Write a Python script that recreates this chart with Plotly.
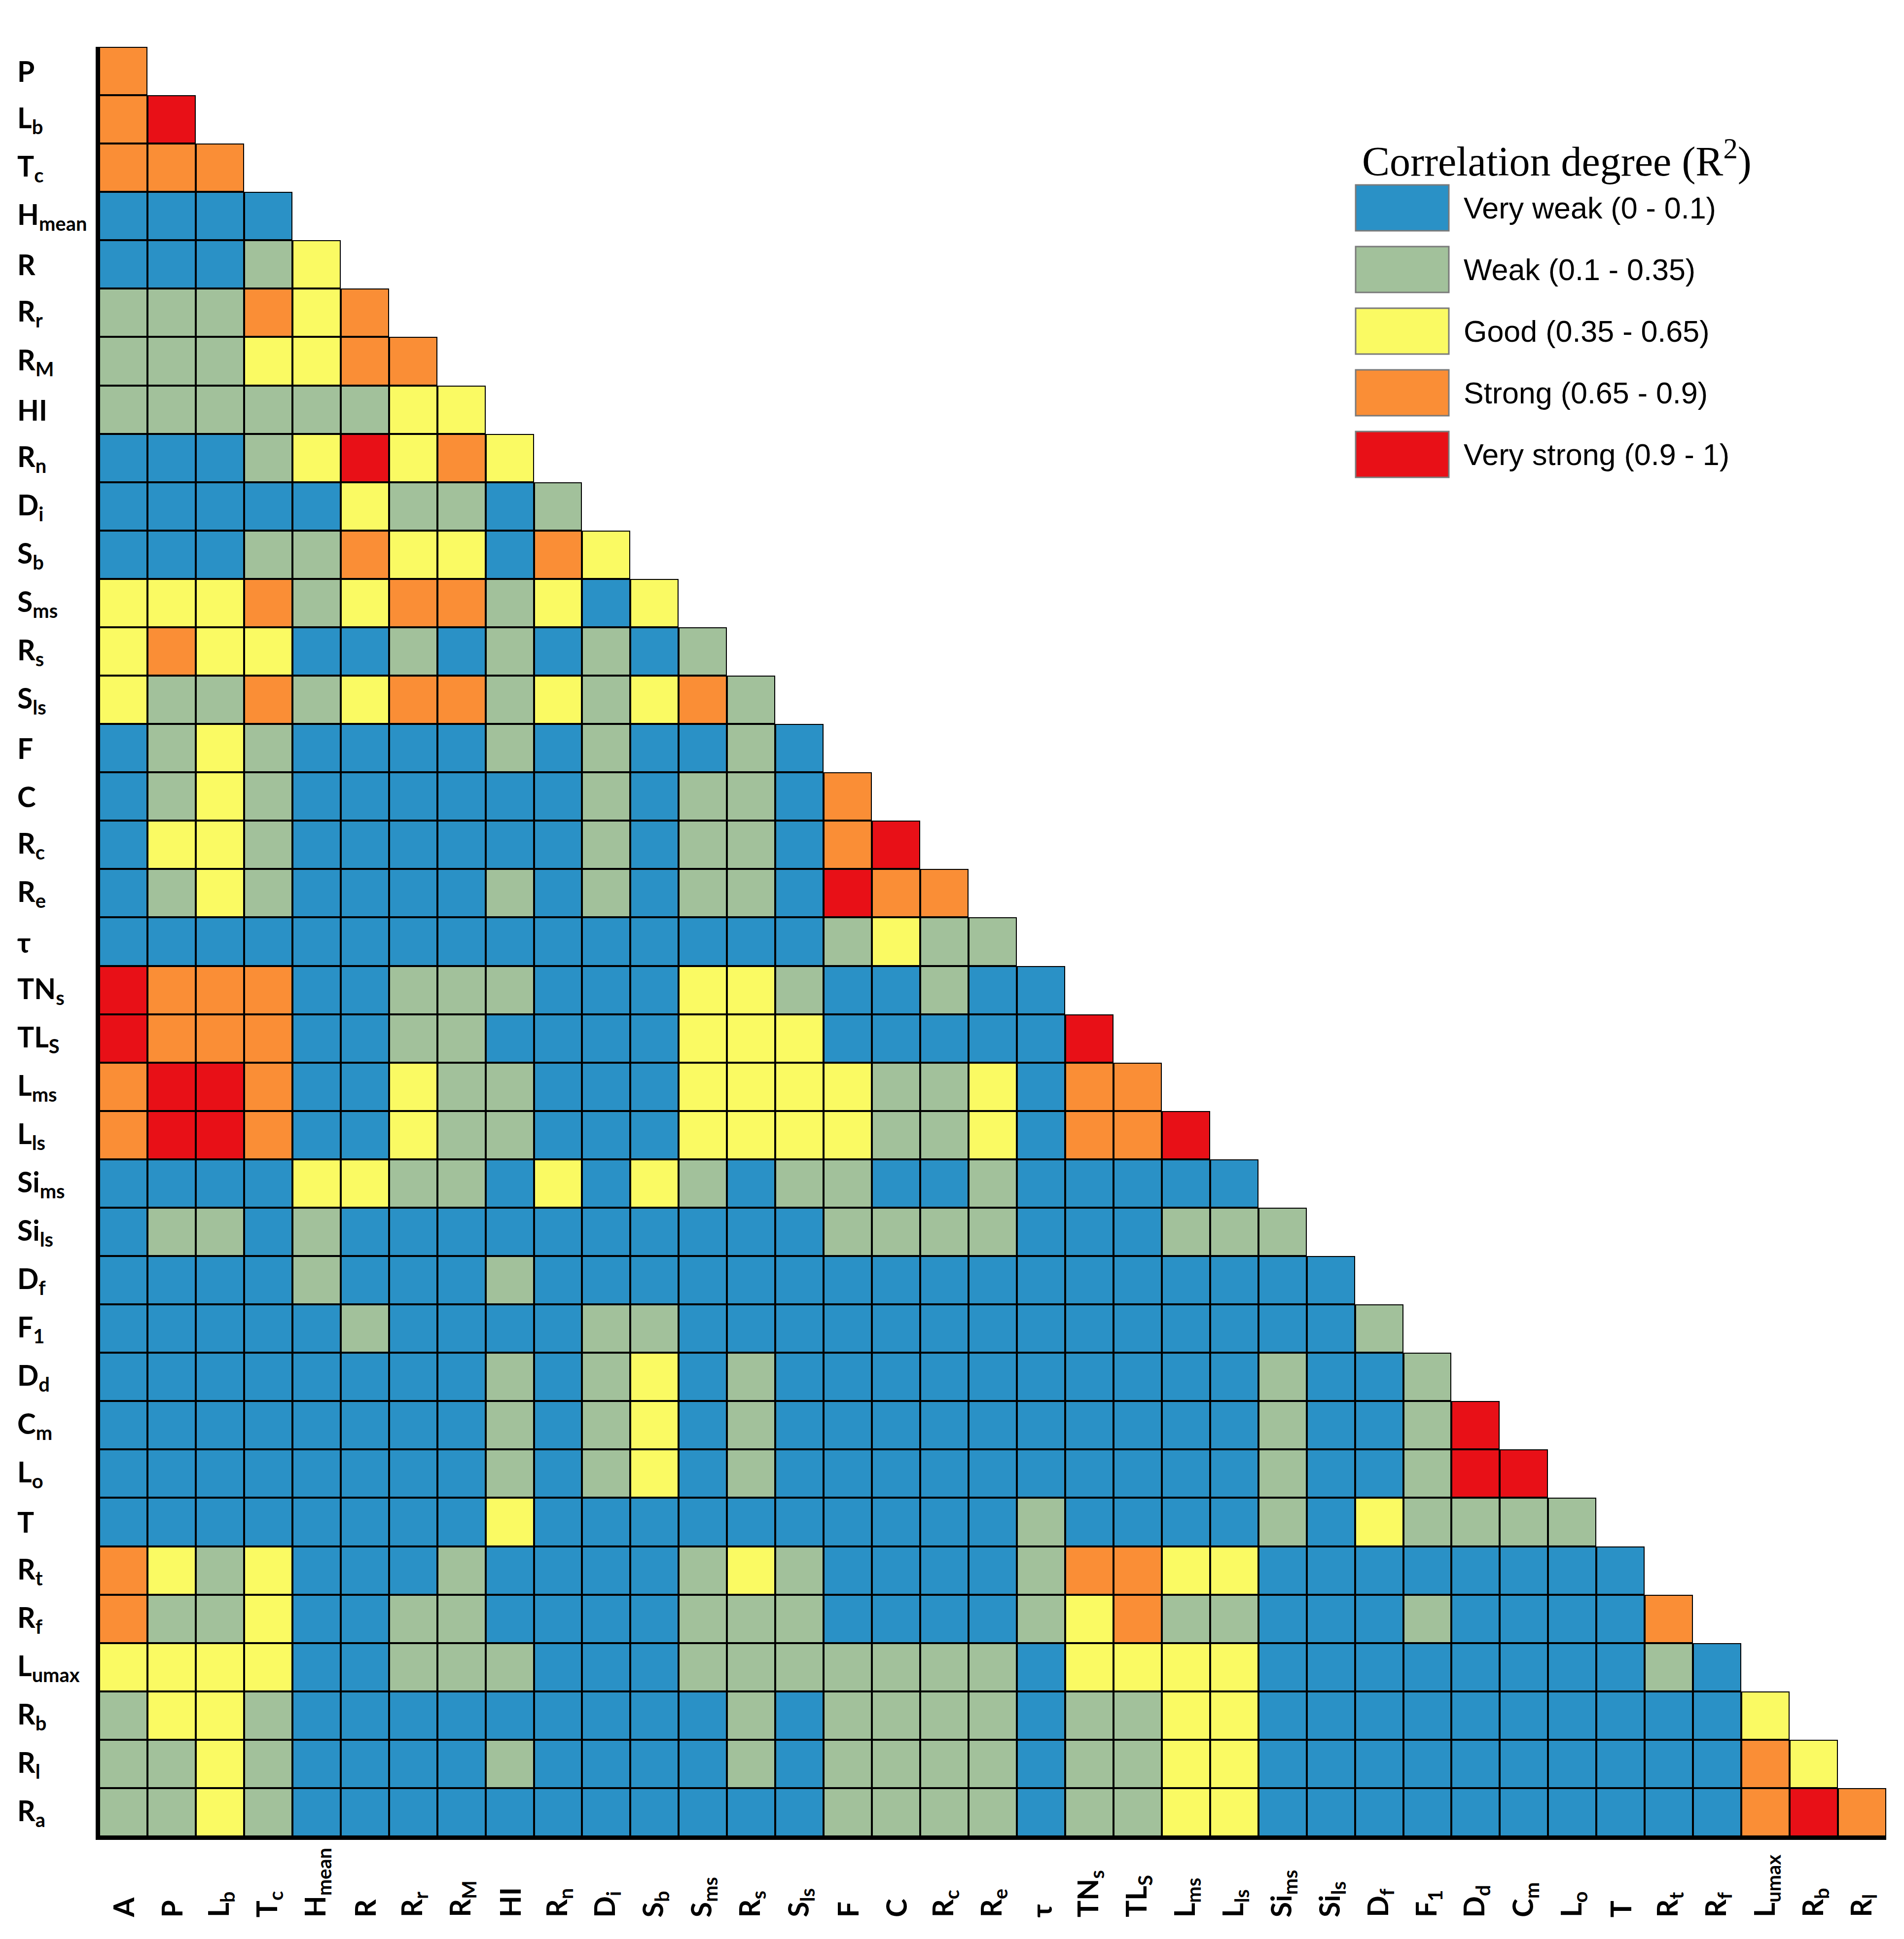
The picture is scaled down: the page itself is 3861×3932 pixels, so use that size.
import plotly.graph_objects as go

# ---------------- data ----------------
row_labels = ["P", "L<sub>b</sub>", "T<sub>c</sub>", "H<sub>mean</sub>", "R", "R<sub>r</sub>",
              "R<sub>M</sub>", "HI", "R<sub>n</sub>", "D<sub>i</sub>", "S<sub>b</sub>", "S<sub>ms</sub>",
              "R<sub>s</sub>", "S<sub>ls</sub>", "F", "C", "R<sub>c</sub>", "R<sub>e</sub>", "τ",
              "TN<sub>s</sub>", "TL<sub>S</sub>", "L<sub>ms</sub>", "L<sub>ls</sub>", "Si<sub>ms</sub>",
              "Si<sub>ls</sub>", "D<sub>f</sub>", "F<sub>1</sub>", "D<sub>d</sub>", "C<sub>m</sub>",
              "L<sub>o</sub>", "T", "R<sub>t</sub>", "R<sub>f</sub>", "L<sub>umax</sub>", "R<sub>b</sub>",
              "R<sub>l</sub>", "R<sub>a</sub>"]
col_labels = ["A"] + row_labels[:-1]

# correlation class per cell (B=very weak, W=weak, G=good, S=strong, V=very strong)
level_codes = ["B", "W", "G", "S", "V"]
level_names = ["Very weak (0 - 0.1)", "Weak (0.1 - 0.35)", "Good (0.35 - 0.65)",
               "Strong (0.65 - 0.9)", "Very strong (0.9 - 1)"]
level_colors = ["#2A91C6", "#A2C19B", "#FAFA63", "#FA8E36", "#E81017"]

row_classes = [
    "S",
    "SV",
    "SSS",
    "BBBB",
    "BBBWG",
    "WWWSGS",
    "WWWGGSS",
    "WWWWWWGG",
    "BBBWGVGSG",
    "BBBBBGWWBW",
    "BBBWWSGGBSG",
    "GGGSWGSSWGBG",
    "GSGGBBWBWBWBW",
    "GWWSWGSSWGWGSW",
    "BWGWBBBBWBWBBWB",
    "BWGWBBBBBBWBWWBS",
    "BGGWBBBBBBWBWWBSV",
    "BWGWBBBBWBWBWWBVSS",
    "BBBBBBBBBBBBBBBWGWW",
    "VSSSBBWWWBBBGGWBBWBB",
    "VSSSBBWWBBBBGGGBBBBBV",
    "SVVSBBGWWBBBGGGGWWGBSS",
    "SVVSBBGWWBBBGGGGWWGBSSV",
    "BBBBGGWWBGBGWBWWBBWBBBBB",
    "BWWBWBBBBBBBBBBWWWWBBBWWW",
    "BBBBWBBBWBBBBBBBBBBBBBBBBB",
    "BBBBBWBBBBWWBBBBBBBBBBBBBBW",
    "BBBBBBBBWBWGBWBBBBBBBBBBWBBW",
    "BBBBBBBBWBWGBWBBBBBBBBBBWBBWV",
    "BBBBBBBBWBWGBWBBBBBBBBBBWBBWVV",
    "BBBBBBBBGBBBBBBBBBBWBBBBWBGWWWW",
    "SGWGBBBWBBBBWGWBBBBWSSGGBBBBBBBB",
    "SWWGBBWWBBBBWWWBBBBWGSWWBBBWBBBBS",
    "GGGGBBWWWBBBWWWWWWWBGGGGBBBBBBBBWB",
    "WGGWBBBBBBBBBWBWWWWBWWGGBBBBBBBBBBG",
    "WWGWBBBBWBBBBWBWWWWBWWGGBBBBBBBBBBSG",
    "WWGWBBBBBBBBBBBWWWWBWWGGBBBBBBBBBBSVS",
]
for i, rc in enumerate(row_classes):
    assert len(rc) == i + 1, (i, len(rc))

# ---------------- geometry (page pixels) ----------------
W, H = 3861, 3932
OFF = 8                      # default body margin of the html page
FW, FH = W - 2 * OFF, H - 2 * OFF
L, R, T, B = 201, 3825, 95, 3724
PW, PH = R - L, B - T


def px(xp):
    return (xp - L) / PW


def py(yp):
    return (B - yp) / PH


n_rows, n_cols = len(row_labels), len(col_labels)
z = []
mask = []
for i in range(n_rows):
    zr, mr = [], []
    for j in range(n_cols):
        if j < len(row_classes[i]):
            zr.append(level_codes.index(row_classes[i][j]))
            mr.append(1)
        else:
            zr.append(None)
            mr.append(None)
    z.append(zr)
    mask.append(mr)

cs = []
nl = len(level_colors)
for k, c in enumerate(level_colors):
    cs.append([k / nl, c])
    cs.append([(k + 1) / nl, c])

fig = go.Figure()
# black underlay -> grid lines
fig.add_trace(go.Heatmap(z=mask, x=list(range(n_cols)), y=list(range(n_rows)),
                         colorscale=[[0, "black"], [1, "black"]], showscale=False,
                         hoverinfo="skip"))
fig.add_trace(go.Heatmap(z=z, x=list(range(n_cols)), y=list(range(n_rows)),
                         colorscale=cs, zmin=-0.5, zmax=nl - 0.5, showscale=False,
                         xgap=4, ygap=4, hoverinfo="skip"))

label_font = dict(family="Lato", size=57, color="black", weight="bold")
annotations = []
for i, lab in enumerate(row_labels):
    annotations.append(dict(text=lab, x=px(33), xref="paper", y=i, yref="y",
                            xanchor="left", yanchor="middle", showarrow=False,
                            font=label_font))
for j, lab in enumerate(col_labels):
    annotations.append(dict(text=lab, x=j, xref="x", y=py(3890), yref="paper",
                            xanchor="center", yanchor="bottom", textangle=-90,
                            showarrow=False, font=label_font))

# legend
annotations.append(dict(text="Correlation degree (R<sup>2</sup>)", x=px(2760), xref="paper",
                        y=py(322), yref="paper", xanchor="left", yanchor="middle",
                        showarrow=False,
                        font=dict(family="Liberation Serif", size=84, color="black")))
shapes = []
box_top0, box_step, box_h = 375, 125, 93
box_x0, box_x1 = 2749, 2938
for k, name in enumerate(level_names):
    top = box_top0 + k * box_step
    shapes.append(dict(type="rect", xref="paper", yref="paper",
                       x0=px(box_x0), x1=px(box_x1), y0=py(top + box_h), y1=py(top),
                       fillcolor=level_colors[k], line=dict(color="#7a7a7a", width=3)))
    annotations.append(dict(text=name, x=px(2966), xref="paper", y=py(top + box_h / 2),
                            yref="paper", xanchor="left", yanchor="middle", showarrow=False,
                            font=dict(family="Liberation Sans", size=61, color="black")))

fig.update_layout(
    width=FW, height=FH,
    margin=dict(l=L - OFF, r=FW - (R - OFF), t=T - OFF, b=FH - (B - OFF), pad=0),
    paper_bgcolor="white", plot_bgcolor="white",
    xaxis=dict(range=[-0.5, n_cols - 0.5], showgrid=False, zeroline=False,
               showticklabels=False, ticks="", showline=True, linecolor="black",
               linewidth=7),
    yaxis=dict(range=[n_rows - 0.5, -0.5], showgrid=False, zeroline=False,
               showticklabels=False, ticks="", showline=True, linecolor="black",
               linewidth=7),
    annotations=annotations,
    shapes=shapes,
    showlegend=False,
)

fig.write_html("out.html")
